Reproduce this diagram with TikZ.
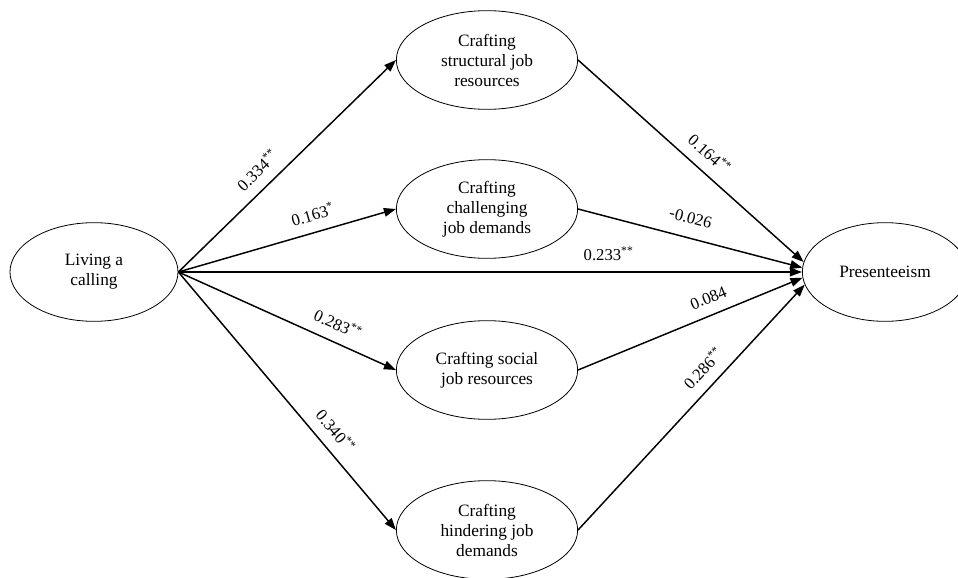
\documentclass[tikz,border=0pt]{standalone}
\usepackage{fontspec}
\setmainfont{Liberation Serif}
\usetikzlibrary{shapes.geometric,arrows.meta}

\begin{document}
\begin{tikzpicture}
        [x=0.75pt,y=-0.75pt,
         var/.style={draw,ellipse,line width=0.6pt,inner sep=0pt,align=center,
           font=\fontsize{13}{15}\selectfont,minimum width=136pt,minimum height=74pt},
         arr/.style={-{Triangle[length=9pt,width=6.5pt]},line width=1.1pt},
         coef/.style={sloped,above=6pt,inner sep=2pt,font=\fontsize{12.5}{14}\selectfont}]
        \useasboundingbox (0,0) rectangle (958,578);
        \clip (0,0) rectangle (958,578);

        \node[var,minimum width=126pt] (call) at (94,272) {Living a\\calling};
        \node[var,minimum width=124pt] (pres) at (885,272) {Presenteeism};

        \node[var] (struct) at (487,60) {Crafting\\structural job\\resources};
        \node[var] (chall) at (487,209) {Crafting\\challenging\\job demands};
        \node[var] (social) at (487,370) {Crafting social\\job resources};
        \node[var] (hind) at (487,530) {Crafting\\hindering job\\demands};

        \draw[arr] (call.east) -- (struct.west) node[coef,pos=0.42] {0.334\textsuperscript{**}};
        \draw[arr] (call.east) -- (chall.west) node[coef,pos=0.64] {0.163\textsuperscript{*}};
        \draw[arr] (call.east) -- (pres.180) node[coef,pos=0.69] {0.233\textsuperscript{**}};
        \draw[arr] (call.east) -- (social.west) node[coef,pos=0.70] {0.283\textsuperscript{**}};
        \draw[arr] (call.east) -- (hind.west) node[coef,pos=0.66] {0.340\textsuperscript{**}};

        \draw[arr] (struct.east) -- (pres.173) node[coef,pos=0.53] {0.164\textsuperscript{**}};
        \draw[arr] (chall.east) -- (pres.177) node[coef,pos=0.48,above=2pt] {-0.026};
        \draw[arr] (social.east) -- (pres.184) node[coef,pos=0.61] {0.084};
        \draw[arr] (hind.east) -- (pres.189) node[coef,pos=0.61] {0.286\textsuperscript{**}};
      \end{tikzpicture}
\end{document}
